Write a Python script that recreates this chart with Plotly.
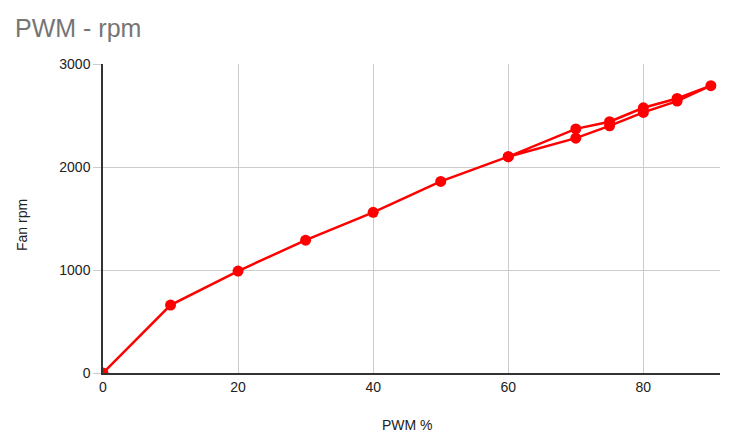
import plotly.graph_objects as go

pwm = [0, 10, 20, 30, 40, 50, 60, 70, 75, 80, 85, 90, 85, 80, 75, 70, 60]
rpm = [0, 660, 990, 1290, 1560, 1860, 2100, 2280, 2400, 2530, 2640, 2790, 2665, 2575, 2440, 2370, 2100]

x_ticks = [0, 20, 40, 60, 80]
y_ticks = [0, 1000, 2000, 3000]

fig = go.Figure()
fig.add_trace(go.Scatter(
    x=pwm, y=rpm, mode="lines+markers",
    line=dict(color="#ff0000", width=2.5),
    marker=dict(color="#ff0000", size=11),
    showlegend=False,
))

font = "Arial, Liberation Sans, sans-serif"
L, R, T, B = 103, 11, 64, 69
W, H = 731, 442
pw, ph = W - L - R, H - T - B

fig.update_layout(
    width=W, height=H,
    margin=dict(l=L, r=R, t=T, b=B),
    paper_bgcolor="white", plot_bgcolor="white",
    font=dict(family=font, size=14, color="#222222"),
    title=dict(text="PWM - rpm", x=15 / W, xref="container", xanchor="left",
               y=1 - 28 / H, yref="container", yanchor="middle",
               font=dict(family=font, size=25, color="#757575")),
    xaxis=dict(range=[0, 91.35], tickvals=x_ticks, showgrid=True, gridcolor="#cccccc",
               gridwidth=1, showline=True, linecolor="#333333", linewidth=1.5,
               zeroline=False, ticks="", tickfont=dict(size=14, color="#222222")),
    yaxis=dict(range=[0, 3000], tickvals=y_ticks, showgrid=True, gridcolor="#cccccc",
               gridwidth=1, showline=True, linecolor="#333333", linewidth=1.5,
               zeroline=False, ticks="outside", ticklen=8, tickcolor="#cccccc",
               tickfont=dict(size=14, color="#222222")),
    annotations=[
        dict(text="PWM %", x=(407 - L) / pw, y=(H - B - 425) / ph, xref="paper", yref="paper",
             showarrow=False, font=dict(size=14, color="#222222"),
             xanchor="center", yanchor="middle"),
        dict(text="Fan rpm", x=(22 - L) / pw, y=(H - B - 225) / ph, xref="paper", yref="paper",
             showarrow=False, textangle=-90, font=dict(size=14, color="#222222"),
             xanchor="center", yanchor="middle"),
    ],
)
fig.write_html("out.html", config={"displayModeBar": False},
               post_script="document.body.style.margin='0';")
